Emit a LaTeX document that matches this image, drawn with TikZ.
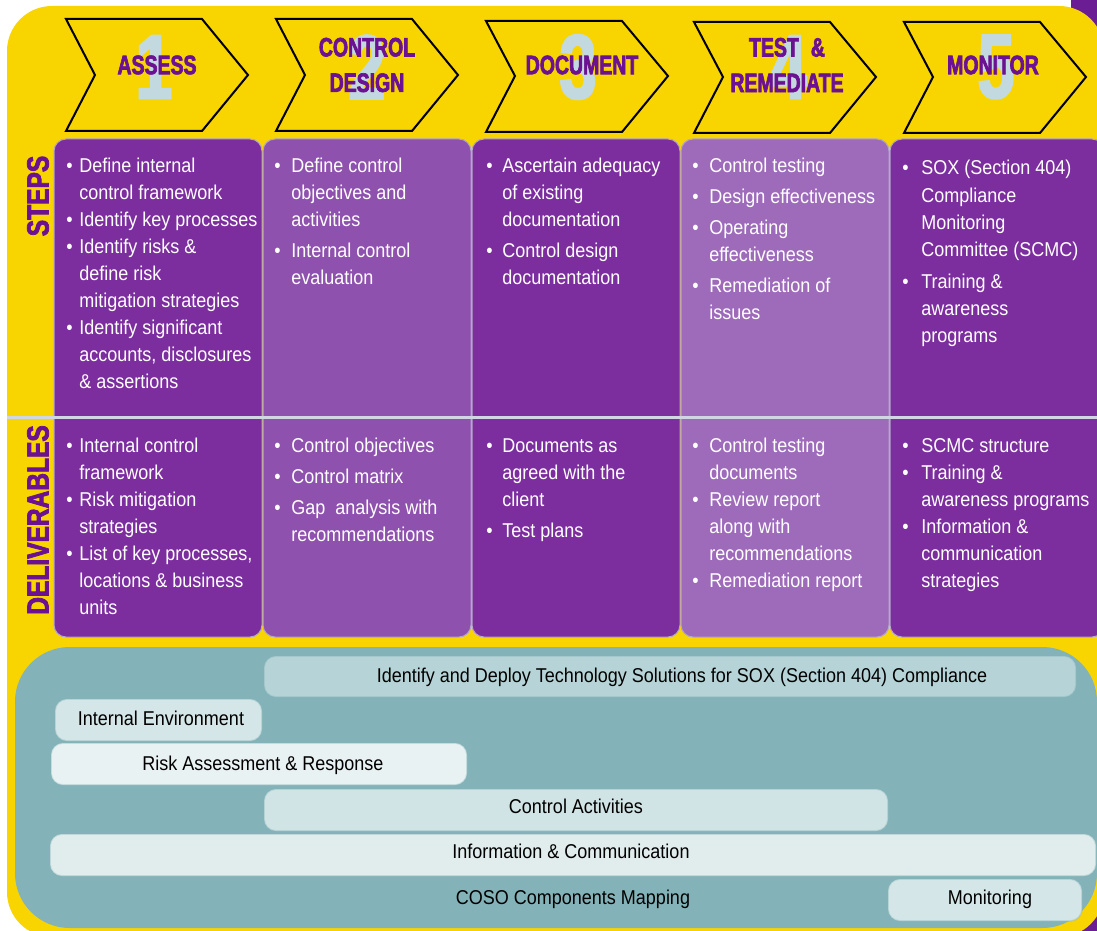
\documentclass[tikz,border=0pt]{standalone}
\usepackage{fontspec}
\setmainfont{Liberation Sans}
\newfontfamily\bodyfont[FakeStretch=0.9]{Liberation Sans}
\newfontfamily\headfont[FakeStretch=0.73,FakeBold=2.5]{Liberation Sans}
\newfontfamily\labelfont[FakeStretch=0.8,FakeBold=2.5]{Liberation Sans}
\usepackage{tikz}
\usetikzlibrary{positioning}

\definecolor{bgyellow}{HTML}{F8D400}
\definecolor{edgepurple}{HTML}{6B1E93}
\definecolor{darkcol}{HTML}{7C2E9E}
\definecolor{midcol}{HTML}{8F51AE}
\definecolor{lightcol}{HTML}{9E6BBB}
\definecolor{coledge}{HTML}{B3A6C8}
\definecolor{headpurple}{HTML}{6B1191}
\definecolor{numblue}{HTML}{C2DADF}
\definecolor{sepgray}{HTML}{D0D6E2}
\definecolor{cosoteal}{HTML}{83B3B8}
\definecolor{barA}{HTML}{B6D4D7}
\definecolor{barB}{HTML}{D4E6E7}
\definecolor{barC}{HTML}{E9F2F3}
\definecolor{barD}{HTML}{D0E3E5}
\definecolor{barE}{HTML}{E1EDED}

\tikzset{
  chevron/.style={draw=black, line width=1.5pt},
  heading/.style={text=headpurple, align=center, inner sep=0pt, font=\headfont\bfseries\fontsize{20}{26.6}\selectfont},
  bignum/.style={text=numblue, inner sep=0pt, font=\headfont\bfseries\fontsize{68}{68}\selectfont},
  rowlabel/.style={text=headpurple, rotate=90, inner sep=0pt, font=\labelfont\bfseries\fontsize{23}{23}\selectfont},
  column/.style={draw=coledge, line width=0.75pt, rounded corners=9pt},
  cell/.style={anchor=base west, inner sep=0pt, text=white, font=\bodyfont\fontsize{15}{20.3}\selectfont},
  bar/.style={draw=cosoteal, draw opacity=0.35, line width=1.2pt, rounded corners=9pt},
  bartext/.style={anchor=base, inner sep=0pt, text=black, font=\bodyfont\fontsize{15}{18}\selectfont}
}

\begin{document}
\begin{tikzpicture}[x=0.75pt,y=-0.75pt]
    \useasboundingbox (0,0) rectangle (1097,931);
    \clip (0,0) rectangle (1097,931);
    \fill[white] (0,0) rectangle (1097,931);
    \fill[edgepurple] (1071,0) rectangle (1097,931);
    \fill[bgyellow, rounded corners=33.75pt] (7,6) rectangle (1104,937);

    \node[bignum] (n1) at (154,67) {1};
    \node[bignum] (n2) at (367,67) {2};
    \node[bignum] (n3) at (578,67) {3};
    \node[bignum] (n4) at (788,67) {4};
    \node[bignum] (n5) at (996,67) {5};

    \draw[chevron] (66,19) -- (202,19) -- (248,75) -- (202,131) -- (66,131) -- (95,75) -- cycle;
    \draw[chevron] (276,19) -- (412,19) -- (458,75) -- (412,131) -- (276,131) -- (305,75) -- cycle;
    \draw[chevron] (486,21) -- (622,21) -- (668,76) -- (622,132) -- (486,132) -- (515,76) -- cycle;
    \draw[chevron] (694,22) -- (830,22) -- (876,77) -- (830,133) -- (694,133) -- (723,77) -- cycle;
    \draw[chevron] (904,22) -- (1040,22) -- (1086,77) -- (1040,133) -- (904,133) -- (933,77) -- cycle;

    \node[heading] (assess) at (157,65) {ASSESS};
    \node[heading] (design) at (367,65) {CONTROL\\DESIGN};
    \node[heading] (document) at (582,65) {DOCUMENT};
    \node[heading] (remediate) at (787,65) {TEST\hspace{9pt}\&\\REMEDIATE};
    \node[heading] (monitor) at (993,65) {MONITOR};

    \draw[column, fill=darkcol] (54,139) rectangle (262,637);
    \draw[column, fill=midcol] (263,139) rectangle (471,637);
    \draw[column, fill=darkcol] (472,139) rectangle (680,637);
    \draw[column, fill=lightcol] (681,139) rectangle (889,637);
    \draw[column, fill=darkcol] (890,139) rectangle (1104,637);
    \draw[line width=2.25pt, sepgray] (7,417) -- (1097,417);

    \node[rowlabel] (steps) at (38,196) {STEPS};
    \node[rowlabel] (deliverables) at (38,520) {DELIVERABLES};

    \node[cell] (s1) at (66,172) {\begin{tabular}[t]{@{}p{9.75pt}@{}l@{}}
        \textbullet & Define internal\\
         & control framework\\
        \textbullet & Identify key processes\\
        \textbullet & Identify risks \&\\
         & define risk\\
         & mitigation strategies\\
        \textbullet & Identify significant\\
         & accounts, disclosures\\
         & \& assertions
    \end{tabular}};
    \node[cell] (s2) at (274,172) {\begin{tabular}[t]{@{}p{12.75pt}@{}l@{}}
        \textbullet & Define control\\
         & objectives and\\
         & activities\\[3pt]
        \textbullet & Internal control\\
         & evaluation
    \end{tabular}};
    \node[cell] (s3) at (486,172) {\begin{tabular}[t]{@{}p{12pt}@{}l@{}}
        \textbullet & Ascertain adequacy\\
         & of existing\\
         & documentation\\[3pt]
        \textbullet & Control design\\
         & documentation
    \end{tabular}};
    \node[cell] (s4) at (692,172) {\begin{tabular}[t]{@{}p{12.75pt}@{}l@{}}
        \textbullet & Control testing\\[3pt]
        \textbullet & Design effectiveness\\[3pt]
        \textbullet & Operating\\
         & effectiveness\\[3pt]
        \textbullet & Remediation of\\
         & issues
    \end{tabular}};
    \node[cell] (s5) at (902,175) {\begin{tabular}[t]{@{}p{14.25pt}@{}l@{}}
        \textbullet & SOX (Section 404)\\
         & Compliance\\
         & Monitoring\\
         & Committee (SCMC)\\[4pt]
        \textbullet & Training \&\\
         & awareness\\
         & programs
    \end{tabular}};

    \node[cell] (d1) at (66,452) {\begin{tabular}[t]{@{}p{9.75pt}@{}l@{}}
        \textbullet & Internal control\\
         & framework\\
        \textbullet & Risk mitigation\\
         & strategies\\
        \textbullet & List of key processes,\\
         & locations \& business\\
         & units
    \end{tabular}};
    \node[cell] (d2) at (274,452) {\begin{tabular}[t]{@{}p{12.75pt}@{}l@{}}
        \textbullet & Control objectives\\[3pt]
        \textbullet & Control matrix\\[3pt]
        \textbullet & Gap\ \ analysis with\\
         & recommendations
    \end{tabular}};
    \node[cell] (d3) at (486,452) {\begin{tabular}[t]{@{}p{12pt}@{}l@{}}
        \textbullet & Documents as\\
         & agreed with the\\
         & client\\[3pt]
        \textbullet & Test plans
    \end{tabular}};
    \node[cell] (d4) at (692,452) {\begin{tabular}[t]{@{}p{12.75pt}@{}l@{}}
        \textbullet & Control testing\\
         & documents\\
        \textbullet & Review report\\
         & along with\\
         & recommendations\\
        \textbullet & Remediation report
    \end{tabular}};
    \node[cell] (d5) at (902,452) {\begin{tabular}[t]{@{}p{14.25pt}@{}l@{}}
        \textbullet & SCMC structure\\
        \textbullet & Training \&\\
         & awareness programs\\
        \textbullet & Information \&\\
         & communication\\
         & strategies
    \end{tabular}};

    \fill[cosoteal, rounded corners=41pt] (15,647) rectangle (1097,928);
    \draw[bar, fill=barA] (264,656) rectangle (1076,697);
    \draw[bar, fill=barB] (55,699) rectangle (262,741);
    \draw[bar, fill=barC] (51,743) rectangle (467,785);
    \draw[bar, fill=barD] (264,789) rectangle (888,831);
    \draw[bar, fill=barE] (50,834) rectangle (1096,876);
    \draw[bar, fill=barB] (888,879) rectangle (1082,921);

    \node[bartext] (tech) at (682,682) {Identify and Deploy Technology Solutions for SOX (Section 404) Compliance};
    \node[bartext] (environment) at (161,725) {Internal Environment};
    \node[bartext] (risk) at (263,770) {Risk Assessment \& Response};
    \node[bartext] (activities) at (576,813) {Control Activities};
    \node[bartext] (information) at (571,858) {Information \& Communication};
    \node[bartext] (coso) at (573,904) {COSO Components Mapping};
    \node[bartext] (monitoring) at (990,904) {Monitoring};
\end{tikzpicture}
\end{document}
